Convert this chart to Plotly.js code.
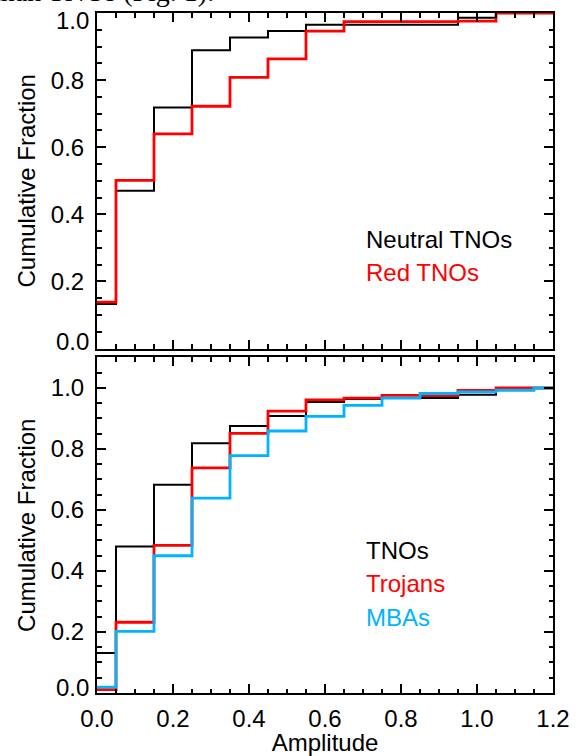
<!DOCTYPE html>
<html>
<head>
<meta charset="utf-8">
<script src="https://cdn.plot.ly/plotly-3.0.1.min.js"></script>
<style>
  html, body { margin: 0; padding: 0; background: #fff; }
  #chart { width: 580px; height: 756px; }
</style>
</head>
<body>
<div id="chart"></div>
<script>
// Bin centres (amplitude, mag)
const amplitude = [0.0, 0.1, 0.2, 0.3, 0.4, 0.5, 0.6, 0.7, 0.8, 0.9, 1.0, 1.1, 1.2];

// Top panel: cumulative fractions
const neutralTNOs = [0.133, 0.470, 0.718, 0.889, 0.927, 0.946, 0.965, 0.965, 0.965, 0.965, 0.986, 1.0, 1.0];
const redTNOs     = [0.138, 0.501, 0.640, 0.722, 0.808, 0.863, 0.946, 0.974, 0.974, 0.974, 0.976, 1.0, 1.0];

// Bottom panel: cumulative fractions
const tnos    = [0.131, 0.480, 0.683, 0.819, 0.875, 0.908, 0.954, 0.964, 0.967, 0.967, 0.978, 0.993, 1.0];
const trojans = [0.011, 0.232, 0.484, 0.738, 0.851, 0.924, 0.961, 0.967, 0.976, 0.975, 0.992, 1.0, 1.0];
const mbas    = [0.019, 0.202, 0.450, 0.639, 0.778, 0.859, 0.907, 0.943, 0.967, 0.982, 0.987, 0.993, 1.0];

const xTicks = [0.0, 0.2, 0.4, 0.6, 0.8, 1.0, 1.2];
const xTickText = ['0.0', '0.2', '0.4', '0.6', '0.8', '1.0', '1.2'];
const yTicks = [0.0, 0.2, 0.4, 0.6, 0.8, 1.0];
const yTickText = ['0.0', '0.2', '0.4', '0.6', '0.8', '1.0'];

const topLabels = ['Neutral TNOs', 'Red TNOs'];
const bottomLabels = ['TNOs', 'Trojans', 'MBAs'];
const pageText = 'than TNOs (Fig. 1).';

const BLACK = '#000000', RED = '#ff0000', CYAN = '#00b4ff';
const FONT = 'Liberation Sans, Arial, Helvetica, sans-serif';

function step(y, color, width, xa, ya) {
  return { x: amplitude, y: y, type: 'scatter', mode: 'lines',
           line: { shape: 'hvh', color: color, width: width },
           xaxis: xa, yaxis: ya, hoverinfo: 'skip', showlegend: false };
}

const data = [
  step(neutralTNOs, BLACK, 2, 'x2', 'y2'),
  step(redTNOs, RED, 2.8, 'x2', 'y2'),
  step(tnos, BLACK, 2, 'x', 'y'),
  step(trojans, RED, 2.8, 'x', 'y'),
  step(mbas, CYAN, 2.8, 'x', 'y')
];

const axisCommon = {
  showline: true, linewidth: 2, linecolor: '#000', mirror: 'allticks',
  ticks: 'inside', ticklen: 9, tickwidth: 2, tickcolor: '#000',
  showgrid: false, zeroline: false,
  tickfont: { family: FONT, size: 24, color: '#000' },
  minor: { ticks: 'inside', ticklen: 4.5, tickwidth: 2, tickcolor: '#000', showgrid: false }
};

const bottomDom = [0, 0.4934];
const topDom = [0.5066, 1];

// y tick labels: interior ones via axis, end ones nudged inward (as in original)
const topYText = yTickText.map((t, i) => (i === 0 || i === yTickText.length - 1) ? '' : t);
const botYText = yTickText.map((t, i) => (i === 0) ? '' : t);

const layout = {
  width: 580, height: 756,
  margin: { l: 97, r: 27, t: 13, b: 63 },
  paper_bgcolor: '#fff', plot_bgcolor: '#fff',
  showlegend: false,
  xaxis: Object.assign({}, axisCommon, {
    anchor: 'y', range: [0, 1.2], tickvals: xTicks, ticktext: xTickText,
    minor: Object.assign({}, axisCommon.minor, { dtick: 0.05, tick0: 0 }),
    ticklabelstandoff: 3,
    title: { text: 'Amplitude', font: { family: FONT, size: 24, color: '#000' }, standoff: 4 }
  }),
  xaxis2: Object.assign({}, axisCommon, {
    anchor: 'y2', matches: 'x', range: [0, 1.2], tickvals: xTicks, showticklabels: false,
    minor: Object.assign({}, axisCommon.minor, { dtick: 0.05, tick0: 0 })
  }),
  yaxis: Object.assign({}, axisCommon, {
    anchor: 'x', domain: bottomDom, range: [0, 1.1], tickvals: yTicks, ticktext: botYText,
    minor: Object.assign({}, axisCommon.minor, { dtick: 0.05, tick0: 0 }),
    ticklabelstandoff: 6,
    title: { text: 'Cumulative Fraction', font: { family: FONT, size: 24, color: '#000' }, standoff: 8 }
  }),
  yaxis2: Object.assign({}, axisCommon, {
    anchor: 'x2', domain: topDom, range: [0, 1.0], tickvals: yTicks, ticktext: topYText,
    minor: Object.assign({}, axisCommon.minor, { dtick: 0.05, tick0: 0 }),
    ticklabelstandoff: 6,
    title: { text: 'Cumulative Fraction', font: { family: FONT, size: 24, color: '#000' }, standoff: 8 }
  }),
  annotations: []
};

// End tick labels nudged inward
const endLabels = [
  { ref: 'y2 domain', v: 1, text: yTickText[yTickText.length - 1], shift: -7 },
  { ref: 'y2 domain', v: 0, text: yTickText[0], shift: 7 },
  { ref: 'y domain', v: 0, text: yTickText[0], shift: 6 }
];
endLabels.forEach(e => layout.annotations.push({
  xref: 'paper', x: 0, xanchor: 'right', xshift: -6,
  yref: e.ref, y: e.v, yanchor: 'middle', yshift: e.shift,
  text: e.text, showarrow: false, font: { family: FONT, size: 24, color: '#000' }
}));

// Text legends
const topColors = [BLACK, RED];
topLabels.forEach((t, i) => layout.annotations.push({
  xref: 'x2', x: 0.703, xanchor: 'left', yref: 'y2', y: 0.326 - i * 0.1,
  yanchor: 'middle', text: t, showarrow: false, font: { family: FONT, size: 24, color: topColors[i] }
}));
const botColors = [BLACK, RED, CYAN];
bottomLabels.forEach((t, i) => layout.annotations.push({
  xref: 'x', x: 0.703, xanchor: 'left', yref: 'y', y: 0.468 - i * 0.11,
  yanchor: 'middle', text: t, showarrow: false, font: { family: FONT, size: 24, color: botColors[i] }
}));

// Cropped page text above the figure
layout.annotations.push({
  xref: 'paper', x: 0.262, xanchor: 'right', yref: 'paper', y: 1.031, yanchor: 'middle',
  text: pageText, showarrow: false, font: { family: 'Liberation Serif, Times New Roman, serif', size: 28, color: '#000' }
});

Plotly.newPlot('chart', data, layout, { staticPlot: true, displayModeBar: false });
</script>
</body>
</html>
